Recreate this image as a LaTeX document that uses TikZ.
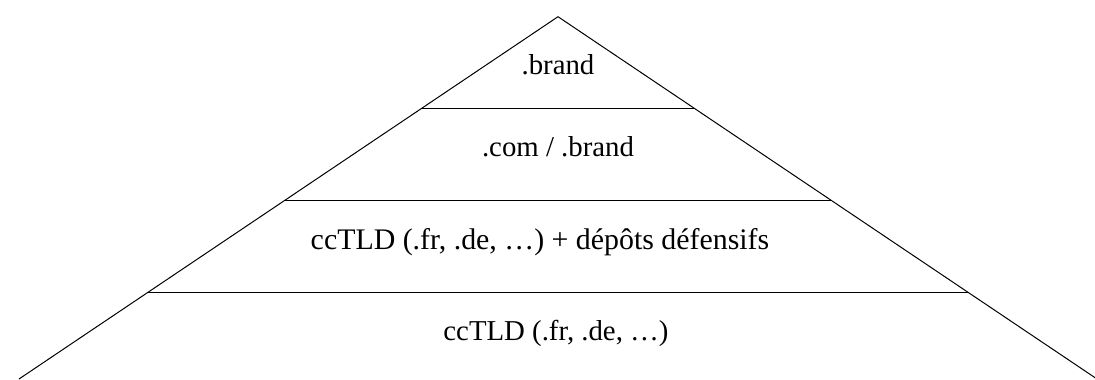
\documentclass[tikz,border=0pt]{standalone}
\usepackage{fontspec}
\setmainfont{Liberation Serif}
\usetikzlibrary{calc}

\tikzset{
	stufe/.style={anchor=base, font=\fontsize{21.6}{26}\selectfont},
	stufegross/.style={anchor=base, font=\fontsize{22.4}{27}\selectfont}
}

\begin{document}
\begin{tikzpicture}[x=0.75pt, y=-0.75pt, line width=0.75pt]
	\useasboundingbox (0,0) rectangle (1095,379); % Rand wie Vorlage
	
	% Pyramide
	\coordinate (spitze) at (558,16.7);
	\coordinate (links) at (19,379);
	\coordinate (rechts) at (1097,379);
	\draw (links) -- (spitze) -- (rechts);
	
	% Trennlinien
	\foreach \t in {0.253, 0.508, 0.761}
		\draw ($(spitze)!\t!(links)$) -- ($(spitze)!\t!(rechts)$);
	
	\node[stufe] (brand) at (558,74) {.brand};
	\node[stufe] (com) at (558,156) {.com / .brand};
	\node[stufegross] (defensiv) at (540,249) {ccTLD (.fr, .de, …) + dépôts défensifs};
	\node[stufe] (cctld) at (556,340) {ccTLD (.fr, .de, …)};
	
	%\draw[help lines, step=50] (0,0) grid (1095,379);
\end{tikzpicture}
\end{document}
